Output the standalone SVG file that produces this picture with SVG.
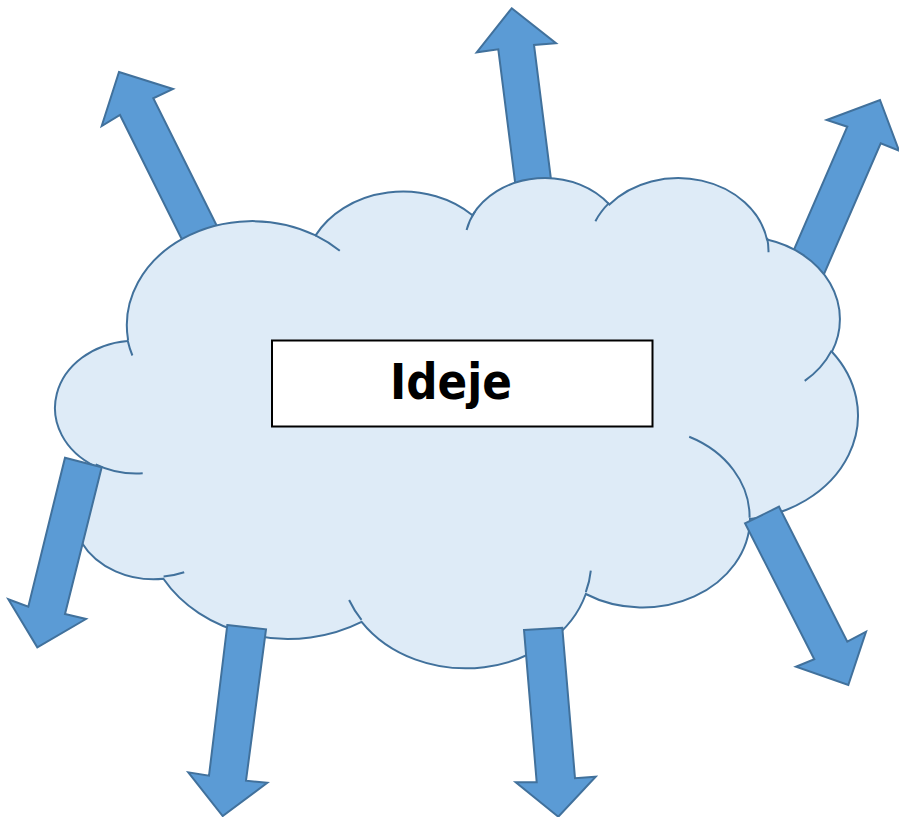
<svg xmlns="http://www.w3.org/2000/svg" width="899" height="817" viewBox="0 0 899 817">
<style>
.arrow{fill:#5B9BD5;stroke:#41719C;stroke-width:2;stroke-linejoin:miter}
.cloud{fill:#DEEBF7;stroke:#41719C;stroke-width:2}
.inner{fill:none;stroke:#41719C;stroke-width:2}
.box{fill:#FFFFFF;stroke:#000000;stroke-width:2}
.label{font-family:"DejaVu Sans","Liberation Sans",sans-serif;font-weight:bold;font-size:50px;fill:#000000}
</style>
<rect width="899" height="817" fill="#FFFFFF"/>
<g id="connectors-back">
<polygon class="arrow" points="119,72 173,89 153.3,98.3 238,268.4 204.6,285 120,115 101.7,126"/>
<polygon class="arrow" points="511.7,8.3 556,43.3 534,45 557.8,233.5 522.1,237.8 498.3,49.3 476.7,52.3"/>
<polygon class="arrow" points="880,100 899,150.7 880.7,143.3 809.1,308.4 775.7,291.8 847.3,126.7 826.7,120"/>
</g>
<g id="cloud">
<path class="cloud" d="M128.0,339.4 A125.4,104.2 0 0 1 315.6,235.4 A99.0,82.4 0 0 1 472.5,215.3 A81.0,67.4 0 0 1 609.4,204.5 A90.2,74.8 0 0 1 767.0,239.6 A99.0,82.5 0 0 1 831.9,351.7 A125.8,104.6 0 0 1 750.0,519.0 A107.4,89.2 0 0 1 585.8,594.0 A125.3,104.5 0 0 1 361.6,621.8 A143.3,119.6 0 0 1 163.4,578.8 A80.9,67.1 0 0 1 94.9,466.2 A80.7,67.4 0 0 1 127.4,341.0 Z"/>
<path class="inner" d="M142.7,473.3 A80.7,67.4 0 0 1 95.7,464.3
M184.2,572.3 A80.9,67.1 0 0 1 163.6,576.6
M361.5,619.8 A125.3,104.5 0 0 1 349.1,600.0
M590.8,570.6 A125.3,104.5 0 0 1 585.8,592.2
M689.2,436.8 A107.4,89.2 0 0 1 749.6,517.7
M831.6,350.6 A99.0,82.5 0 0 1 804.7,380.9
M767.1,237.9 A90.2,74.8 0 0 1 768.5,252.3
M595.4,221.2 A90.2,74.8 0 0 1 609.2,202.9
M466.6,229.9 A81.0,67.4 0 0 1 475.0,211.5
M315.5,235.3 A125.4,104.2 0 0 1 339.8,250.8
M132.4,355.5 A125.4,104.2 0 0 1 127.8,341.0"/>
</g>
<g id="connectors-front">
<polygon class="arrow" points="65,457.7 101.7,467.3 65,614 86,619 37.3,647.3 8.3,599.3 28.3,606.7"/>
<polygon class="arrow" points="227.3,625 266,629.3 246,780.7 267.3,782.7 222.7,816 188.3,772.3 209,775.7"/>
<polygon class="arrow" points="524,630 562.3,627.7 575,778.3 595.7,776.7 558.3,816.7 515.7,782.3 536.7,782.3"/>
<polygon class="arrow" points="745,523.3 779,506.7 847.3,641.7 866,631.7 848.3,685 796,666.7 814.3,659.3"/>
</g>
<g id="ideje">
<rect class="box" x="272" y="340.5" width="380.5" height="86"/>
<text class="label" x="451" y="399" text-anchor="middle" textLength="122" lengthAdjust="spacingAndGlyphs">Ideje</text>
</g>
</svg>
